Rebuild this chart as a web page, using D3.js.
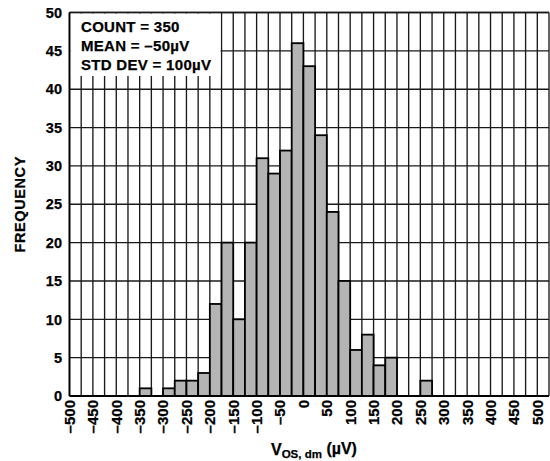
<!DOCTYPE html>
<html>
<head>
<meta charset="utf-8">
<script src="https://cdn.jsdelivr.net/npm/d3@7/dist/d3.min.js"></script>
<style>
  html, body { margin: 0; padding: 0; background: #fff; }
  svg { display: block; }
  text { font-family: "Liberation Sans", Arial, Helvetica, sans-serif; font-weight: bold; fill: #000; stroke: #000; stroke-width: 0.25px; }
</style>
</head>
<body>
<svg id="chart" width="550" height="461"></svg>
<script>
// Histogram bins (left edge, µV) and counts
const binStarts = [-500,-475,-450,-425,-400,-375,-350,-325,-300,-275,-250,-225,-200,-175,-150,-125,-100,-75,-50,-25,
                   0,25,50,75,100,125,150,175,200,225,250,275,300,325,350,375,400,425,450,475,500];
const counts    = [0,0,0,0,0,0,1,0,1,2,2,3,12,20,10,20,31,29,32,46,
                   43,34,24,15,6,8,4,5,0,0,2,0,0,0,0,0,0,0,0,0,0];
const binWidth = 25;

const xTickValues = [-500,-450,-400,-350,-300,-250,-200,-150,-100,-50,0,50,100,150,200,250,300,350,400,450,500];
const xTickLabels = ["–500","–450","–400","–350","–300","–250","–200","–150","–100","–50","0","50","100","150","200","250","300","350","400","450","500"];
const yTickValues = [0,5,10,15,20,25,30,35,40,45,50];
const legendLines = ["COUNT = 350","MEAN = –50µV","STD DEV = 100µV"];

const svg = d3.select("#chart");
const x = d3.scaleLinear().domain([-500, 525]).range([69.5, 549]);
const y = d3.scaleLinear().domain([0, 50]).range([396, 12.5]);

const gridColor = "#1a1a1a";

// vertical grid lines every bin
const gridX = binStarts.concat([525]);
svg.append("g").selectAll("line").data(gridX).join("line")
  .attr("x1", d => x(d)).attr("x2", d => x(d))
  .attr("y1", y(0)).attr("y2", y(50))
  .attr("stroke", gridColor).attr("stroke-width", 1.35);

// horizontal grid lines
svg.append("g").selectAll("line").data(yTickValues).join("line")
  .attr("x1", x(-500)).attr("x2", x(525))
  .attr("y1", d => y(d)).attr("y2", d => y(d))
  .attr("stroke", gridColor).attr("stroke-width", 1.35);

// legend box (white, covers grid)
svg.append("rect")
  .attr("x", x(-500) + 1).attr("y", y(50) + 1)
  .attr("width", 220.5 - x(-500) - 1).attr("height", 76 - y(50) - 1)
  .attr("fill", "#fff");

// bars
svg.append("g").selectAll("rect").data(counts.map((c, i) => ({s: binStarts[i], c})).filter(d => d.c > 0)).join("rect")
  .attr("x", d => x(d.s)).attr("width", d => x(d.s + binWidth) - x(d.s))
  .attr("y", d => y(d.c)).attr("height", d => y(0) - y(d.c))
  .attr("fill", "#b4b4b4").attr("stroke", "#000").attr("stroke-width", 1.8);

// frame
svg.append("line").attr("x1", x(-500)).attr("x2", x(-500)).attr("y1", y(0)).attr("y2", y(50))
  .attr("stroke", "#000").attr("stroke-width", 1.8);
svg.append("line").attr("x1", x(-500)).attr("x2", x(525)).attr("y1", y(0)).attr("y2", y(0))
  .attr("stroke", "#000").attr("stroke-width", 2);
svg.append("line").attr("x1", x(-500)).attr("x2", x(525)).attr("y1", y(50)).attr("y2", y(50))
  .attr("stroke", gridColor).attr("stroke-width", 1.5);

// legend text
svg.append("g").selectAll("text").data(legendLines).join("text")
  .attr("x", 81).attr("y", (d, i) => 31.7 + i * 18.9)
  .attr("font-size", 15).attr("letter-spacing", 0.3)
  .text(d => d);

// y tick labels
svg.append("g").selectAll("text").data(yTickValues).join("text")
  .attr("x", 62).attr("y", d => y(d)).attr("dy", "0.36em")
  .attr("text-anchor", "end").attr("font-size", 14.5)
  .text(d => d);

// x tick labels (rotated)
svg.append("g").selectAll("text").data(xTickValues).join("text")
  .attr("transform", d => `translate(${x(d)},400) rotate(-90)`)
  .attr("dy", "0.36em").attr("text-anchor", "end").attr("font-size", 15)
  .text((d, i) => xTickLabels[i]);

// y axis title
svg.append("text")
  .attr("transform", `translate(20,${(y(0) + y(50)) / 2}) rotate(-90)`)
  .attr("dy", "0.36em").attr("text-anchor", "middle").attr("font-size", 14.5).attr("letter-spacing", 0.6)
  .text("FREQUENCY");

// x axis title
const xt = svg.append("text").attr("x", 271).attr("y", 455).attr("font-size", 16);
xt.append("tspan").text("V");
xt.append("tspan").attr("font-size", 11.5).attr("dy", 3).text("OS, dm");
xt.append("tspan").attr("dy", -4).text(" (µV)");
</script>
</body>
</html>
